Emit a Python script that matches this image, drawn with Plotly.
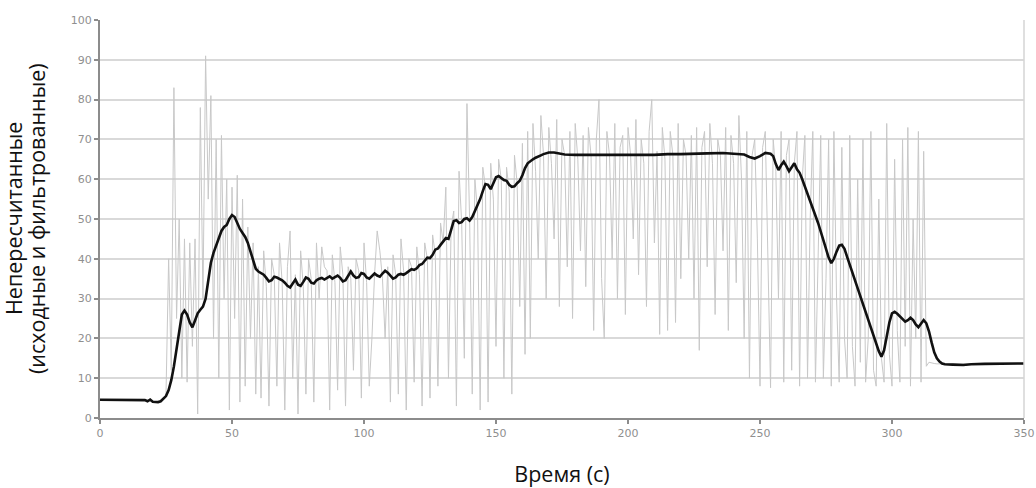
import plotly.graph_objects as go

# Raw (unfiltered) samples, one per second from t = 0 s
raw_t = list(range(0, 351))
raw_v = [
    # 0-24 s
    4.6, 4.6, 4.6, 4.6, 4.6, 4.6, 4.6, 4.6, 4.6, 4.6,
    4.6, 4.6, 4.6, 4.6, 4.6, 4.6, 4.6, 4.5, 4.2, 4.6,
    4.1, 4.0, 4.0, 4.2, 4.8,
    # 25-59 s
    6, 40, 12, 83, 25, 50, 10, 45, 9, 44,
    18, 45, 1, 78, 30, 91, 55, 81, 20, 70,
    10, 71, 30, 60, 2, 58, 25, 61, 4, 55,
    8, 48, 20, 44, 6,
    # 60-129 s
    38, 5, 42, 33, 3, 40, 36, 8, 44, 34,
    2, 38, 47, 10, 36, 1, 42, 33, 6, 40,
    35, 4, 44, 30, 43, 38, 37, 2, 41, 34,
    7, 43, 36, 3, 38, 35, 12, 40, 37, 5,
    44, 34, 8, 20, 36, 47, 42, 35, 20, 38,
    4, 41, 36, 6, 45, 37, 2, 40, 38, 9,
    43, 36, 3, 44, 40, 5, 46, 41, 8, 49,
    # 130-159 s
    44, 58, 10, 48, 52, 3, 62, 49, 15, 79,
    50, 6, 60, 52, 2, 63, 58, 4, 64, 55,
    18, 65, 60, 10, 63, 57, 6, 66, 59, 28,
    # 160-245 s
    69, 16, 72, 20, 74, 62, 40, 76, 66, 30,
    73, 64, 45, 75, 28, 70, 66, 38, 72, 25,
    74, 65, 42, 71, 33, 73, 66, 22, 70, 80,
    35, 20, 72, 66, 40, 74, 30, 68, 71, 26,
    73, 66, 45, 75, 36, 70, 64, 28, 72, 80,
    44, 67, 21, 73, 65, 22, 72, 66, 24, 74,
    35, 70, 66, 40, 71, 30, 73, 17, 68, 72,
    38, 74, 64, 26, 70, 66, 42, 73, 22, 71,
    64, 34, 76, 60, 20, 72,
    # 246-314 s
    10, 66, 70, 45, 8, 68, 72, 40, 7.6, 70,
    62, 30, 72, 9, 66, 70, 12, 64, 72, 8,
    60, 71, 10, 50, 72, 9, 40, 71, 10, 35,
    70, 8, 72, 30, 9, 68, 20, 10, 71, 18,
    8, 60, 14, 70, 9, 20, 72, 12, 8, 55,
    15, 9, 74, 16, 8, 65, 22, 9, 70, 18,
    73, 8, 50, 20, 72, 9, 67, 13, 14,
    # 315-350 s
    13.8, 13.7, 13.6, 13.6, 13.6, 13.6, 13.6, 13.6, 13.6, 13.6,
    13.6, 13.6, 13.6, 13.6, 13.6, 13.6, 13.6, 13.6, 13.6, 13.6,
    13.6, 13.6, 13.6, 13.6, 13.6, 13.6, 13.6, 13.6, 13.6, 13.6,
    13.6, 13.6, 13.6, 13.6, 13.6, 13.6,
]

# Filtered curve
filt_t = [
    0, 5, 10, 15, 17, 18, 19, 20, 22, 23, 24, 25, 26, 27, 28, 29, 30, 31, 32, 33,
    34, 35, 36, 37, 38, 39, 40, 41, 42, 43, 44, 45, 46, 47, 48, 49, 50, 51, 52, 53,
    54, 55, 56, 57, 58, 59, 60, 61, 62, 63, 64, 65, 66, 67, 68, 69, 70, 71, 72, 73,
    74, 75, 76, 77, 78, 79, 80, 81, 82, 83, 84, 85, 86, 87, 88, 89, 90, 91, 92, 93,
    94, 95, 96, 97, 98, 99, 100, 101, 102, 103, 104, 105, 106, 107, 108, 109, 110, 111, 112, 113,
    114, 115, 116, 117, 118, 119, 120, 121, 122, 123, 124, 125, 126, 127, 128, 129, 130, 131, 132, 133,
    134, 135, 136, 137, 138, 139, 140, 141, 142, 143, 144, 145, 146, 147, 148, 149, 150, 151, 152, 153,
    154, 155, 156, 157, 158, 159, 160, 161, 162, 163, 164, 165, 166, 167, 168, 169, 170, 172, 174, 176,
    180, 190, 195, 200, 210, 215, 220, 230, 236, 240, 244, 246, 248, 250, 252, 254, 255, 256, 257, 258,
    259, 260, 261, 262, 263, 264, 265, 266, 268, 270, 272, 274, 275, 276, 277, 278, 279, 280, 281, 282,
    283, 285, 287, 289, 291, 293, 295, 296, 297, 298, 299, 300, 301, 302, 303, 304, 305, 306, 307, 308,
    309, 310, 311, 312, 313, 314, 315, 316, 317, 318, 319, 320, 323, 327, 330, 335, 350,
]
filt_v = [
    4.6, 4.6, 4.6, 4.6, 4.5, 4.2, 4.6, 4.1, 4.0, 4.2, 4.8, 5.5, 7.0, 9.5, 13, 17.5, 22, 26, 27, 26,
    24, 22.8, 24.5, 26.3, 27.2, 28, 30, 34, 39, 41.5, 43.5, 45.5, 47, 48, 48.5, 50, 51, 50.5, 49, 47.5,
    46.5, 45.5, 44, 42, 40, 37.5, 36.8, 36.4, 36, 35.2, 34.3, 34.6, 35.5, 35.3, 35, 34.6, 34, 33.2, 32.8, 33.8,
    34.8, 33.5, 33.2, 34.2, 35.3, 35, 34, 33.8, 34.6, 35, 35.2, 34.8, 35.2, 35.6, 35, 35.4, 35.8, 35.2, 34.3, 34.6,
    35.8, 36.8, 35.8, 35.2, 35.4, 36.4, 36.2, 35.3, 35, 35.6, 36.3, 35.8, 35.5, 36.3, 37, 36.5, 35.6, 35, 35.3, 36,
    36.2, 36, 36.4, 37, 37.4, 37.2, 37.6, 38.4, 38.7, 39.5, 40.3, 40.2, 41, 42.3, 42.6, 43.5, 44.5, 45.2, 45, 47,
    49.5, 49.7, 49, 49.2, 50, 50.2, 49.6, 50.5, 52, 53.5, 55, 57, 58.8, 58.6, 57.5, 59, 60.5, 60.8, 60.2, 59.8,
    59.6, 58.6, 58.1, 58.2, 59, 59.6, 61, 62.8, 64, 64.6, 65, 65.4, 65.8, 66, 66.3, 66.5, 66.7, 66.7, 66.5, 66.2,
    66.1, 66.1, 66.2, 66.1, 66.1, 66.3, 66.3, 66.5, 66.6, 66.4, 66.2, 65.6, 65.2, 65.8, 66.6, 66.4, 65.8, 63.8, 62.3, 63.5,
    64.4, 63.3, 62, 63, 64, 62.5, 61.6, 60, 56.5, 53, 49, 44.7, 42.5, 40.3, 38.9, 40, 41.8, 43.3, 43.5, 42.5,
    40.5, 36.5, 32.5, 28.5, 24.5, 20.5, 16.8, 15.4, 17, 20.5, 24, 26.3, 26.7, 26.2, 25.5, 25, 24.2, 24.6, 25.2, 24.6,
    23.5, 22.8, 23.8, 24.6, 23.8, 21.8, 19, 16.5, 15, 14.2, 13.7, 13.5, 13.4, 13.3, 13.5, 13.6, 13.7,
]

x_ticks = [0, 50, 100, 150, 200, 250, 300, 350]
y_ticks = [0, 10, 20, 30, 40, 50, 60, 70, 80, 90, 100]
y_title_lines = ["Непересчитанные", "(исходные и фильтрованные)"]
x_title = "Время (с)"

fig = go.Figure()
fig.add_trace(go.Scatter(
    x=raw_t, y=raw_v, mode="lines",
    line=dict(color="#c8c8c8", width=1),
    hoverinfo="skip", showlegend=False,
))
fig.add_trace(go.Scatter(
    x=filt_t, y=filt_v, mode="lines",
    line=dict(color="#111111", width=2.6),
    showlegend=False,
))

# Light frame line on the right side of the plot area
fig.add_shape(type="line", xref="x domain", yref="y domain",
              x0=1, x1=1, y0=0, y1=1,
              line=dict(color="#d4d4d4", width=1.5))

# Two-line y-axis caption, placed as rotated annotations
for shift, text in zip([-87, -64], y_title_lines):
    fig.add_annotation(
        text=text, xref="paper", yref="paper", x=0, y=0.5,
        xanchor="center", yanchor="middle", xshift=shift,
        textangle=-90, showarrow=False,
        font=dict(family="Open Sans", size=21.5, color="#111111"),
    )

fig.update_layout(
    width=1036, height=488,
    margin=dict(l=100, r=12, t=20, b=70),
    paper_bgcolor="white", plot_bgcolor="white",
    font=dict(family="Open Sans", color="#111111"),
)
fig.update_xaxes(
    range=[0, 350], tickvals=x_ticks, ticktext=[str(v) for v in x_ticks],
    showgrid=False, zeroline=False,
    showline=True, linecolor="#8c8c8c", linewidth=2,
    ticks="outside", ticklen=4, tickcolor="#8c8c8c", tickwidth=1.5,
    tickfont=dict(family="DejaVu Sans", size=11, color="#8f8f8f"),
    title=dict(text=x_title, font=dict(family="Open Sans", size=21.5, color="#111111"),
               standoff=28),
    automargin=False,
)
fig.update_yaxes(
    range=[0, 100], tickvals=y_ticks, ticktext=[str(v) for v in y_ticks],
    showgrid=True, gridcolor="#d9d9d9", gridwidth=1.5, zeroline=False,
    showline=True, linecolor="#8c8c8c", linewidth=2,
    ticks="outside", ticklen=4, tickcolor="#8c8c8c", tickwidth=1.5,
    tickfont=dict(family="DejaVu Sans", size=11, color="#8f8f8f"),
    automargin=False,
)

fig.write_html("out.html")
